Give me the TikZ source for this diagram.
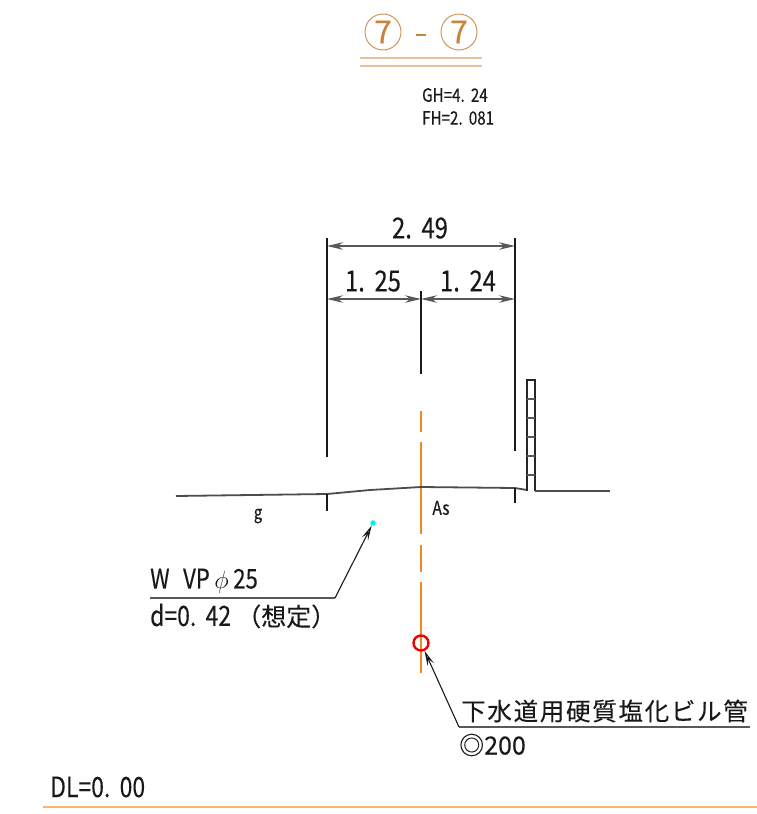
\documentclass[tikz,border=0pt]{standalone}
\usepackage{fontspec}
\usetikzlibrary{arrows.meta}
\newfontfamily\gothic[FakeStretch=0.82,FakeBold=0.25]{Noto Sans CJK JP}
\newfontfamily\jp[FakeBold=0.2]{Noto Sans CJK JP}
\definecolor{titlecol}{HTML}{C8843C}
\definecolor{titleline}{HTML}{E6BF9B}
\definecolor{centercol}{HTML}{F08A1E}
\definecolor{basecol}{HTML}{F9B56E}
\definecolor{dotcol}{HTML}{00F0F0}
\definecolor{pipecol}{HTML}{F00000}
\tikzset{
  x=1pt,y=-1pt,
  txt/.style={inner sep=0pt,font=\gothic,text=black!90},
  dimline/.style={line width=1.6pt,draw=black!65,{Stealth[length=16pt,width=7.5pt,fill=black!50]}-{Stealth[length=16pt,width=7.5pt,fill=black!50]}},
  ext/.style={line width=1.2pt,draw=black!90},
  ground/.style={line width=1.8pt,draw=black!70},
  leader/.style={line width=1.1pt,draw=black!90,-{Stealth[length=15pt,width=7pt,open,inset=6pt]}},
  shelf/.style={line width=1.8pt,draw=black!65},
  axisline/.style={line width=1.2pt,draw=centercol},
}
\begin{document}
\begin{tikzpicture}
\useasboundingbox (0,0) rectangle (757,814);
% title
\node[circle,draw=titlecol!85,line width=1pt,minimum size=36pt,inner sep=0pt,font=\jp\fontsize{32}{32}\selectfont,text=titlecol] (t1) at (383,32) {7};
\node[circle,draw=titlecol!85,line width=1pt,minimum size=36pt,inner sep=0pt,font=\jp\fontsize{32}{32}\selectfont,text=titlecol] (t2) at (459,32) {7};
\coordinate (d1) at (416,35); \coordinate (d2) at (426,35);
\draw[titlecol,line width=2.8pt] (d1) -- (d2);
\coordinate (u1) at (360,58); \coordinate (u2) at (482,58);
\coordinate (u3) at (360,66); \coordinate (u4) at (482,66);
\draw[titleline,line width=1.8pt] (u1) -- (u2) (u3) -- (u4);
\node[txt,anchor=west,font=\gothic\fontsize{18.5}{18}\selectfont] (gh) at (422,95) {GH=4.\,\,24};
\node[txt,anchor=west,font=\gothic\fontsize{18.5}{18}\selectfont] (fh) at (422,118) {FH=2.\,\,081};
% dimensions
\coordinate (la) at (327,238); \coordinate (lb) at (327,457);
\coordinate (ra) at (515,238); \coordinate (rb) at (515,451);
\coordinate (ma) at (421,291); \coordinate (mb) at (421,374);
\draw[ext] (la) -- (lb); \draw[ext] (ra) -- (rb); \draw[ext] (ma) -- (mb);
\coordinate (a1) at (327,246); \coordinate (a2) at (515,246);
\coordinate (b1) at (327,299); \coordinate (b2) at (421,299); \coordinate (b3) at (515,299);
\draw[dimline] (a1) -- (a2);
\draw[dimline] (b1) -- (b2);
\draw[dimline] (b2) -- (b3);
\node[txt,font=\gothic\fontsize{29}{29}\selectfont] (d249) at (420,228) {2.\,\,49};
\node[txt,font=\gothic\fontsize{29}{29}\selectfont] (d125) at (373,281) {1.\,\,25};
\node[txt,font=\gothic\fontsize{29}{29}\selectfont] (d124) at (468,281) {1.\,\,24};
% centre line
\coordinate (c1) at (421,411); \coordinate (c2) at (421,432);
\coordinate (c3) at (421,442); \coordinate (c4) at (421,534);
\coordinate (c5) at (421,545); \coordinate (c6) at (421,572);
\coordinate (c7) at (421,582); \coordinate (c8) at (421,673);
\draw[axisline] (c1) -- (c2) (c3) -- (c4) (c5) -- (c6) (c7) -- (c8);
% ground
\coordinate (g0) at (176,496); \coordinate (g1) at (327,494); \coordinate (g2) at (370,490);
\coordinate (g3) at (421,487); \coordinate (g4) at (515,488); \coordinate (g5) at (527,490);
\draw[ground] (g0) -- (g1) -- (g2) -- (g3) -- (g4) -- (g5);
\coordinate (k1) at (327,511); \coordinate (k2) at (515,503);
\draw[ext] (g1) -- (k1); \draw[ext] (g4) -- (k2);
% wall
\coordinate (w1) at (527,491); \coordinate (w2) at (527,380); \coordinate (w3) at (535,380);
\coordinate (w4) at (535,491); \coordinate (w5) at (610,491);
\draw[line width=1.8pt,draw=black!85] (w1) -- (w2) -- (w3) -- (w4);
\draw[ground] (w4) -- (w5);
\foreach \y in {399,418,437,456,475} \draw[line width=1.4pt,draw=black!65] (527,\y) -- (535,\y);
\node[txt,font=\gothic\fontsize{19}{19}\selectfont] (as) at (441,508) {As};
\node[txt,font=\gothic\fontsize{18}{18}\selectfont] (g) at (258,516) {g};
% WVP
\node[circle,fill=dotcol,inner sep=0pt,minimum size=5.5pt] (dot) at (373,523) {};
\coordinate (wl) at (150,598); \coordinate (wr) at (335,598);
\draw[shelf] (wl) -- (wr);
\draw[leader] (wr) -- (dot);
\node[txt,anchor=west,font=\gothic\fontsize{27}{27}\selectfont] (w) at (150,581) {W\,\,\,VP\,$\phi$\,25};
\node[txt,anchor=west,font=\gothic\fontsize{28}{28}\selectfont] (de) at (150,616) {d=0.\,\,42 {\jp\fontsize{25}{25}\selectfont（想定）}};
% sewer
\node[circle,draw=pipecol,line width=2.4pt,minimum size=15pt,inner sep=0pt] (pipe) at (421,643) {};
\coordinate (sl) at (459,727); \coordinate (sr) at (750,727);
\draw[shelf] (sl) -- (sr);
\draw[leader] (sl) -- (pipe);
\node[txt,anchor=west,font=\jp\fontsize{24.5}{25}\selectfont,text width=295pt] (s1) at (461,711) {\addfontfeature{LetterSpace=7}下水道用硬質塩化ビル管};
\node[txt,anchor=west,font=\jp\fontsize{25}{25}\selectfont] (s2) at (459,745) {◎200};
% base
\node[txt,anchor=west,font=\gothic\fontsize{28}{28}\selectfont] (dl) at (50,787) {DL=0.\,\,00};
\coordinate (bl) at (43,807); \coordinate (br) at (757,807);
\draw[basecol,line width=2.4pt] (bl) -- (br);
\end{tikzpicture}
\end{document}
